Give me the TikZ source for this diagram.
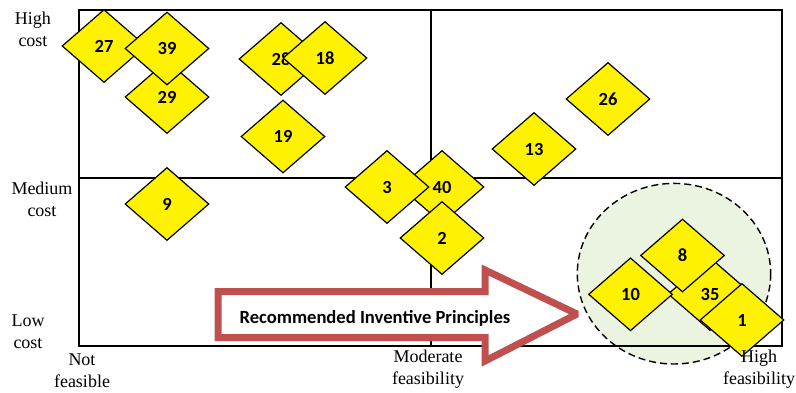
\documentclass[tikz,border=0pt]{standalone}
\usepackage{fontspec}
\setmainfont{Liberation Serif}
\newfontfamily\calibri{Carlito}
\usepackage{xcolor}
\usetikzlibrary{shapes.geometric}
\definecolor{arrowred}{HTML}{C0504D}
\definecolor{zonegreen}{HTML}{EBF3E1}
\tikzset{
principle/.style={diamond, draw, fill=yellow, line width=1.2pt, inner sep=0pt,
  minimum width=84pt, minimum height=73pt, font=\calibri\bfseries\fontsize{18.5}{20}\selectfont},
axislabel/.style={align=center, font=\fontsize{18}{22}\selectfont}}

\begin{document}
\begin{tikzpicture}[x=1pt, y=-1pt]
        \useasboundingbox (0,0) rectangle (796,392);
        % recommended zone
        \fill[zonegreen] (674,273.7) ellipse [x radius=96.7, y radius=90.3];
        \draw[line width=1.4pt, dash pattern=on 7pt off 4pt] (674,273.7) ellipse [x radius=96.7, y radius=90.3];
        % grid
        \coordinate (SW) at (79,346);
        \coordinate (NE) at (782,10);
        \draw[line width=1.6pt] (SW) rectangle (NE);
        \draw[line width=1.2pt] (431,10) -- (431,346);
        \draw[line width=1.2pt] (79,178) -- (782,178);
        % arrow
        \draw[arrowred, fill=white, line width=7pt, miter limit=2]
            (218,291.5) -- (485,291.5) -- (485,270) -- (577,314) -- (485,361) -- (485,337.5) -- (218,337.5) -- cycle;
        \node[font=\calibri\bfseries\fontsize{18.6}{20}\selectfont] (rec) at (375,318) {Recommended Inventive Principles};
        % principles
        \node[principle] (p27) at (104,46) {27};
        \node[principle] (p29) at (167,97) {29};
        \node[principle] (p39) at (167,48.5) {39};
        \node[principle] (p28) at (281,59) {28};
        \node[principle] (p18) at (325,58) {18};
        \node[principle] (p19) at (283,136.5) {19};
        \node[principle] (p9) at (167,204) {9};
        \node[principle] (p40) at (442,187) {40};
        \node[principle] (p3) at (387,187) {3};
        \node[principle] (p2) at (442,238) {2};
        \node[principle] (p13) at (534,149) {13};
        \node[principle] (p26) at (608,99) {26};
        \node[principle] (p35) at (710,294) {35};
        \node[principle] (p10) at (630.5,294.3) {10};
        \node[principle] (p8) at (682.5,255.5) {8};
        \node[principle] (p1) at (742,320) {1};
        % axis texts
        \node[axislabel] (hc) at (33,29.5) {High\\cost};
        \node[axislabel] (mc) at (42,199) {Medium\\cost};
        \node[axislabel] (lc) at (28,331.5) {Low\\cost};
        \node[axislabel] (nf) at (82,371) {Not\\feasible};
        \node[axislabel] (mf) at (428,369) {Moderate\\feasibility};
        \node[axislabel] (hf) at (759,369) {High\\feasibility};
    \end{tikzpicture}
\end{document}
